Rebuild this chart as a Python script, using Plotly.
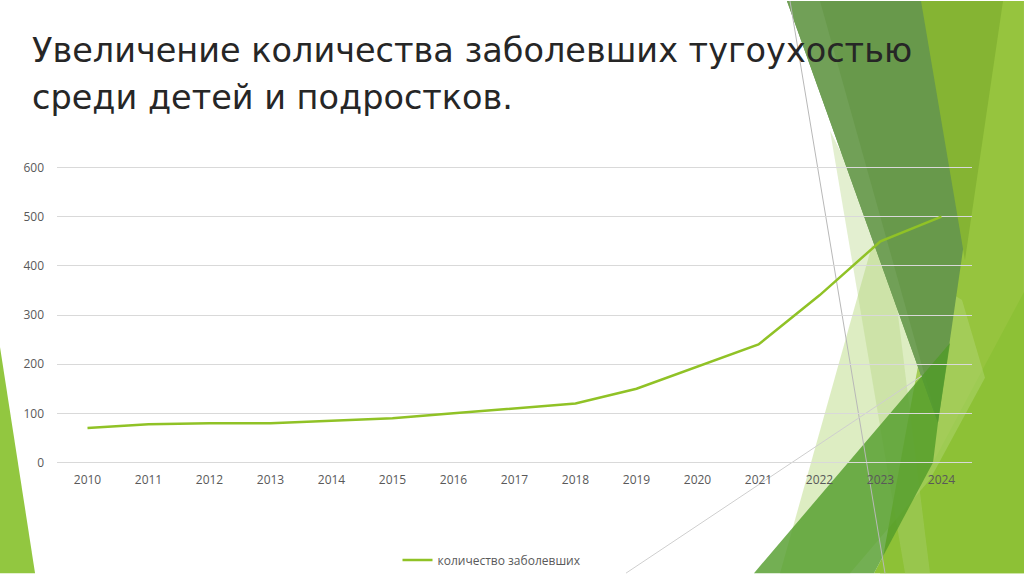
import plotly.graph_objects as go

# данные графика
years = ["2010", "2011", "2012", "2013", "2014", "2015", "2016", "2017",
         "2018", "2019", "2020", "2021", "2022", "2023", "2024"]
cases = [70, 78, 80, 80, 85, 90, 100, 110, 120, 150, 195, 240, 340, 450, 500]
y_ticks = [0, 100, 200, 300, 400, 500, 600]

series_name = "количество заболевших"
title_1 = "Увеличение количества заболевших тугоухостью"
title_2 = "среди детей и подростков."

W, H = 1024, 574
# область графика: x 57..972, y (0 -> 463 px, 600 -> 167 px), диапазон -5..605
L, R, T, B = 57, 52, 164.5, 108.5
PW, PH = W - L - R, H - T - B


def px(x):
    return (x - L) / PW


def py(y):
    return (H - B - y) / PH


def poly(points, color):
    path = "M " + " L ".join(f"{px(x):.4f},{py(y):.4f}" for x, y in points) + " Z"
    return dict(type="path", xref="paper", yref="paper", path=path,
                fillcolor=color, line=dict(width=0), layer="below")


def seg(p1, p2, color):
    return dict(type="line", xref="paper", yref="paper",
                x0=px(p1[0]), y0=py(p1[1]), x1=px(p2[0]), y1=py(p2[1]),
                line=dict(color=color, width=1), layer="below")


# декоративные фигуры темы слайда (в пикселях)
shapes = [
    poly([(0, 347), (35, 574), (0, 574)], "#92c740"),
    poly([(985, 0), (1024, 0), (1024, 574), (880, 574)], "#96c43e"),
    poly([(874, 574), (1024, 292), (1024, 574)], "#8dc136"),
    poly([(872, 245), (962, 300), (985, 378), (930, 480), (850, 574), (780, 574)],
         "rgba(180,215,120,0.45)"),
    poly([(830, 130), (905, 574), (930, 574), (890, 250)], "rgba(175,210,120,0.35)"),
    poly([(787, 0), (999, 0), (938, 423)], "#68994b"),
    poly([(787, 0), (820, 0), (938, 423)], "#71a057"),
    poly([(921, 0), (1003, 0), (965, 260)], "#85b433"),
    poly([(754, 574), (950, 343), (938, 423), (933, 463), (874, 574)],
         "rgba(80,155,40,0.8)"),
    seg((790, 0), (885, 574), "#b8b8b8"),
    seg((626, 574), (922, 376), "#cfcfcf"),
]

fig = go.Figure()
fig.add_trace(go.Scatter(
    x=years, y=cases, mode="lines", name=series_name,
    line=dict(color="#90c226", width=2.5)
))

fig.update_layout(
    width=W, height=H,
    margin=dict(l=L, r=R, t=T, b=B, autoexpand=False),
    paper_bgcolor="white", plot_bgcolor="rgba(0,0,0,0)",
    font=dict(family="Open Sans", color="#595959", size=12),
    showlegend=True,
    legend=dict(orientation="h", x=492 / W, y=(H - 560) / H, xref="container",
                yref="container", xanchor="center", yanchor="middle",
                bgcolor="rgba(0,0,0,0)", font=dict(size=12, color="#595959")),
    shapes=shapes,
    annotations=[
        dict(text=title_1, xref="paper", yref="paper", x=px(30), y=py(50),
             xanchor="left", yanchor="middle", showarrow=False,
             font=dict(family="DejaVu Sans", size=33.5, color="#262626")),
        dict(text=title_2, xref="paper", yref="paper", x=px(30), y=py(97),
             xanchor="left", yanchor="middle", showarrow=False,
             font=dict(family="DejaVu Sans", size=33.5, color="#262626")),
    ],
)
fig.update_xaxes(type="category", range=[-0.5, 14.5], showgrid=False, zeroline=False,
                 showline=False, ticks="", ticklabelstandoff=6,
                 tickfont=dict(size=12, color="#595959"))
fig.update_yaxes(range=[-5, 605], tickvals=y_ticks, showgrid=True, gridcolor="#d9d9d9",
                 gridwidth=1, zeroline=False, showline=False, ticks="",
                 ticklabelstandoff=12, tickfont=dict(size=12, color="#595959"))

fig.write_html("out.html", config={"displayModeBar": False},
               post_script="document.body.style.margin='0px';")
